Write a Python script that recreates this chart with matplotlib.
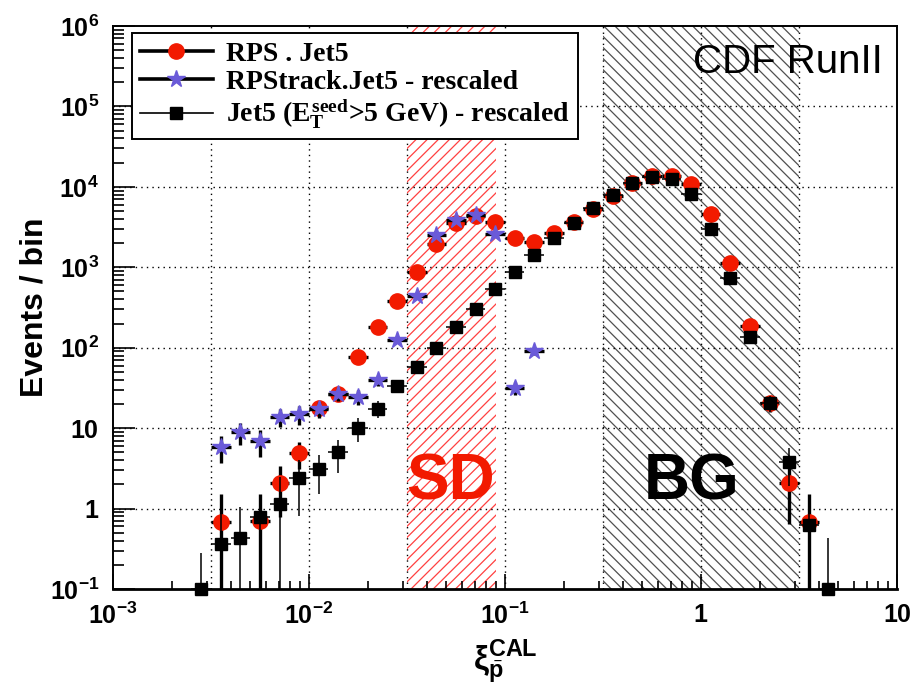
import numpy as np
import matplotlib
matplotlib.use("Agg")
from matplotlib import pyplot as plt
from matplotlib.lines import Line2D
from matplotlib.ticker import FixedLocator, FixedFormatter, LogLocator, NullFormatter

plt.rcParams['font.family'] = ['Liberation Sans', 'DejaVu Sans']
plt.rcParams['mathtext.fontset'] = 'custom'
plt.rcParams['mathtext.rm'] = 'Liberation Serif:bold'
plt.rcParams['mathtext.it'] = 'Liberation Serif:bold'
plt.rcParams['mathtext.bf'] = 'Liberation Serif:bold'
plt.rcParams['mathtext.sf'] = 'Liberation Sans:bold'
plt.rcParams['hatch.linewidth'] = 0.9

# bin centres of xi (log bins, 0.1 decade wide)
xi = [0.00282, 0.00355, 0.00447, 0.00562, 0.00708, 0.00891, 0.0112, 0.0141,
      0.0178, 0.0224, 0.0282, 0.0355, 0.0447, 0.0562, 0.0708, 0.0891, 0.112,
      0.141, 0.178, 0.224, 0.282, 0.355, 0.447, 0.562, 0.708, 0.891, 1.12,
      1.41, 1.78, 2.24, 2.82, 3.55, 4.47]
nan = np.nan

# RPS . Jet5
rps = [nan, 0.68, nan, 0.70, 2.08, 4.9, 17.8, 26.6, 77, 182, 381, 874, 1950,
       3560, 4370, 3670, 2320, 2090, 2680, 3670, 5350, 7800, 11300, 13700,
       13700, 11000, 4600, 1130, 186, 20.6, 2.1, 0.68, nan]
rps_err = [nan, 0.84, nan, 0.82, 1.3, 1.8, 3.5, 4.5, 8, 12, 18, 25, 40, 55,
           60, 55, 45, 42, 48, 55, 70, 85, 100, 110, 110, 100, 65, 32, 13,
           4.5, 1.45, 0.82, nan]

# RPStrack.Jet5 - rescaled
trk = [nan, 5.8, 8.9, 6.9, 13.8, 15.0, 17.4, 26.5, 24.4, 39.8, 125, 440, 2530,
       3900, 4480, 2600, 31.6, 91] + [nan] * 15
trk_err = [nan, 2.1, 2.7, 2.5, 3.6, 4.0, 4.0, 5.0, 5.0, 6.0, 11, 20, 50, 60,
           65, 50, 5.5, 9.5] + [nan] * 15

# Jet5 (E_T seed > 5 GeV) - rescaled
jet = [0.1, 0.36, 0.43, 0.79, 1.14, 2.4, 3.1, 5.0, 10.0, 17.4, 33.5, 57.6,
       100, 181, 304, 537, 874, 1410, 2320, 3560, 5510, 8000, 11300, 13300,
       12500, 8100, 3000, 740, 136, 20.6, 3.8, 0.63, 0.1]
jet_err = [0.18, 0.5, 0.62, 0.7, 1.3, 1.6, 1.6, 2.2, 3.3, 4.2, 6, 7.6, 10, 13,
           17, 23, 30, 38, 48, 60, 74, 90, 106, 115, 112, 90, 55, 27, 12, 4.5,
           1.9, 0.8, 0.33]

sd_range = [10 ** -1.5, 0.09]
bg_range = [10 ** -0.5, 10 ** 0.5]

x_ticks = [1e-3, 1e-2, 1e-1, 1, 10]
x_labels = [r'$\mathsf{10^{-3}}$', r'$\mathsf{10^{-2}}$', r'$\mathsf{10^{-1}}$',
            r'$\mathsf{1}$', r'$\mathsf{10}$']
y_ticks = [1e-1, 1, 10, 1e2, 1e3, 1e4, 1e5, 1e6]
y_labels = [r'$\mathsf{10^{-1}}$', r'$\mathsf{1}$', r'$\mathsf{10}$',
            r'$\mathsf{10^{2}}$', r'$\mathsf{10^{3}}$', r'$\mathsf{10^{4}}$',
            r'$\mathsf{10^{5}}$', r'$\mathsf{10^{6}}$']

red = '#f21a00'
blue = '#6a5ad8'

fig = plt.figure(figsize=(9.15, 6.95), dpi=100)
ax = fig.add_axes([113 / 915, 1 - 589 / 695, 784 / 915, 563 / 695])
ax.set_xscale('log')
ax.set_yscale('log')
ax.set_xlim(1e-3, 10)
ax.set_ylim(0.1, 1e6)

# shaded regions
ax.axvspan(sd_range[0], sd_range[1], facecolor='none', edgecolor='#ff4040',
           hatch='///', lw=0, zorder=0)
ax.axvspan(bg_range[0], bg_range[1], facecolor='none', edgecolor='#505050',
           hatch='\\\\\\', lw=0, zorder=0)

# grid (half decades on x, decades on y)
for e in np.arange(-2.5, 1.0, 0.5):
    ax.axvline(10 ** e, color='black', lw=1.0, ls=(0, (1, 3)), zorder=1)
for e in range(0, 6):
    ax.axhline(10.0 ** e, color='black', lw=1.0, ls=(0, (1, 3)), zorder=1)

x = np.array(xi)
half = 0.05
xerr = [x - x / 10 ** half, x * 10 ** half - x]

series = [
    (rps, rps_err, 'o', red, 11, 2.4),
    (trk, trk_err, '*', blue, 13, 2.4),
    (jet, jet_err, 's', 'black', 9.2, 1.1),
]
z = 3
for vals, errs, mk, col, ms, elw in series:
    y = np.array(vals, dtype=float)
    ax.errorbar(x, y, yerr=np.array(errs, dtype=float), xerr=xerr, fmt='none',
                ecolor='black', elinewidth=elw, capsize=0, zorder=z)
    ax.plot(x, y, ls='none', marker=mk, ms=ms, mfc=col, mec=col,
            clip_on=False, zorder=z + 1)
    z += 2

# axes style
ax.xaxis.set_major_locator(FixedLocator(x_ticks))
ax.xaxis.set_major_formatter(FixedFormatter(x_labels))
ax.yaxis.set_major_locator(FixedLocator(y_ticks))
ax.yaxis.set_major_formatter(FixedFormatter(y_labels))
ax.xaxis.set_minor_locator(LogLocator(base=10, subs=np.arange(2, 10), numticks=20))
ax.yaxis.set_minor_locator(LogLocator(base=10, subs=np.arange(2, 10), numticks=20))
ax.xaxis.set_minor_formatter(NullFormatter())
ax.yaxis.set_minor_formatter(NullFormatter())
ax.tick_params(axis='both', which='both', direction='in', top=False, right=False,
               labelsize=18, width=1.2)
ax.tick_params(axis='y', which='major', length=16, pad=10)
ax.tick_params(axis='y', which='minor', length=8)
ax.tick_params(axis='x', which='major', length=11, pad=10)
ax.tick_params(axis='x', which='minor', length=6)
for s in ax.spines.values():
    s.set_linewidth(1.4)
ax.spines['bottom'].set_linewidth(2.0)

ax.set_ylabel('Events / bin', fontsize=23, fontweight='bold', labelpad=0)
ax.set_xlabel(r'$\mathsf{\xi}_{\bar{\mathsf{p}}}^{\mathsf{CAL}}$', fontsize=24,
              labelpad=6)

ax.text(0.982, 0.9165, 'CDF RunII', transform=ax.transAxes, ha='right',
        va='baseline', fontsize=29)
ax.text(0.431, 0.19, 'SD', transform=ax.transAxes, ha='center', va='center',
        fontsize=46, fontweight='bold', color=red, zorder=2)
ax.text(0.7385, 0.19, 'BG', transform=ax.transAxes, ha='center', va='center',
        fontsize=46, fontweight='bold', color='black', zorder=2)

# legend
handles = [
    Line2D([], [], color='black', lw=2.6, marker='o', ms=11, mfc=red, mec=red),
    Line2D([], [], color='black', lw=2.6, marker='*', ms=13, mfc=blue, mec=blue),
    Line2D([], [], color='black', lw=1.2, marker='s', ms=8, mfc='black', mec='black'),
]
labels = ['RPS . Jet5', 'RPStrack.Jet5 - rescaled',
          r'Jet5 ($E_T^{seed}$>5 GeV) - rescaled']
leg = ax.legend(handles, labels, loc='upper left',
                bbox_to_anchor=(132 / 915, 1 - 33 / 695),
                bbox_transform=fig.transFigure, borderaxespad=0,
                prop={'family': 'Liberation Serif', 'weight': 'bold', 'size': 20},
                frameon=True, fancybox=False, framealpha=1, edgecolor='black',
                handlelength=2.6, handletextpad=0.5, borderpad=0.3,
                labelspacing=0.1)
leg.get_frame().set_linewidth(1.4)
leg.set_zorder(20)

fig.savefig('out.png', dpi=100)
